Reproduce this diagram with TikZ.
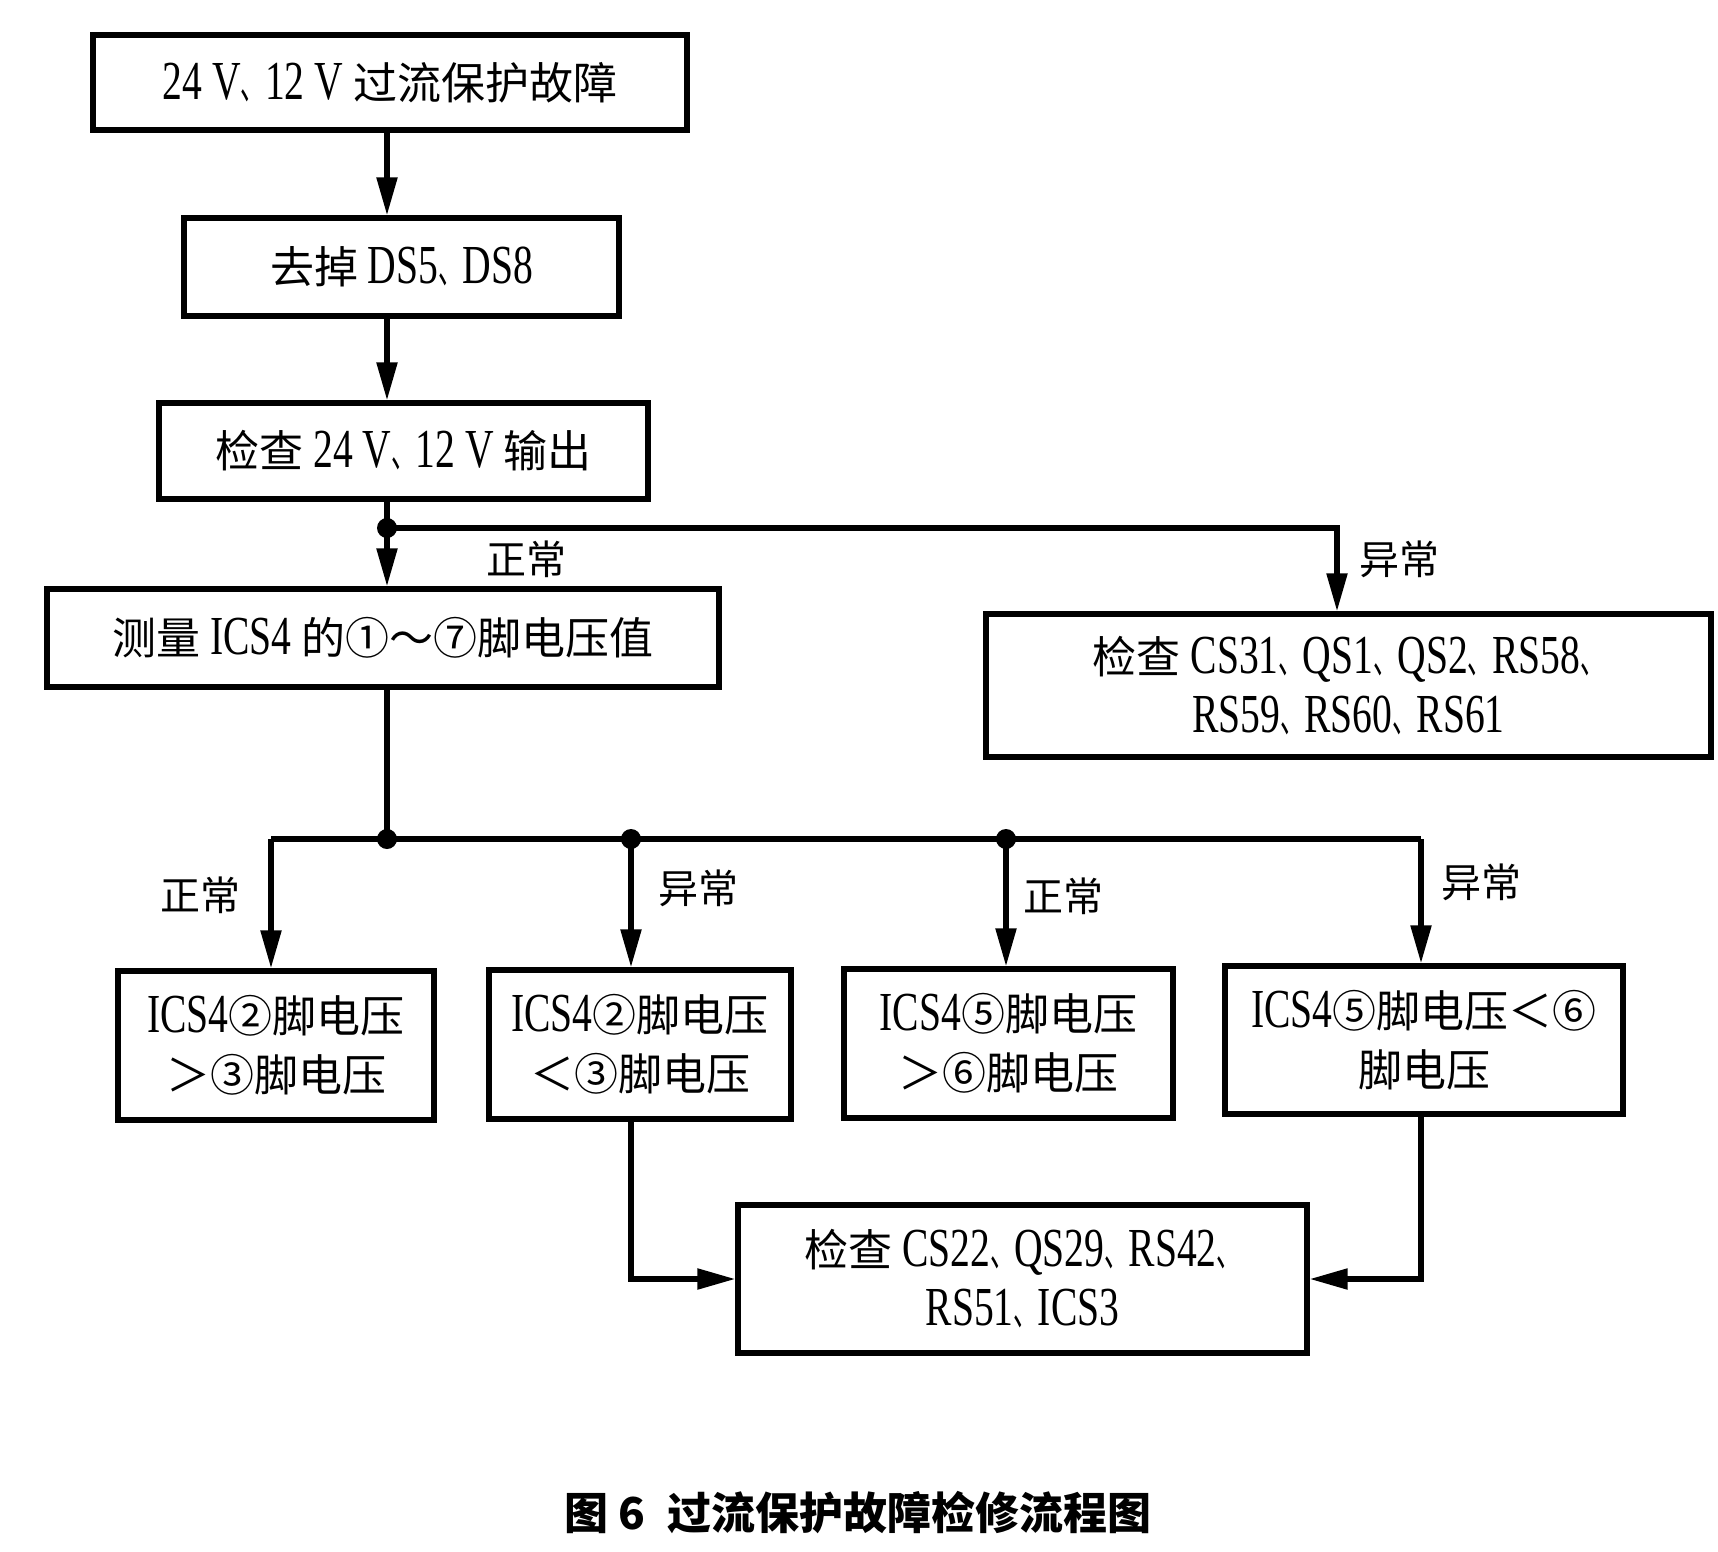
\documentclass[tikz,border=0pt]{standalone}
\usepackage{fontspec}
\setmainfont{Liberation Serif}[FakeStretch=0.72,Scale=1.25]
\newfontfamily\cjk{Noto Sans CJK SC}
\usetikzlibrary{arrows.meta}
\newcommand{\zh}[1]{{\cjk #1}}
\newcommand{\dun}{\scalebox{0.55}[1]{\cjk 、}}
\begin{document}
\begin{tikzpicture}[x=0.5pt,y=-0.5pt,
  box/.style={draw,line width=2.6pt,inner sep=0pt,align=center,font=\fontsize{22}{29.5}\selectfont},
  conn/.style={line width=2.6pt},
  arr/.style={conn,-{Triangle[length=19pt,width=10pt]}},
  lbl/.style={font=\fontsize{20}{24}\selectfont\cjk},
  jdot/.style={circle,fill,inner sep=0pt,minimum size=10pt}]
\useasboundingbox (0,0) rectangle (1718,1552);
\fill[white] (0,0) rectangle (1718,1552);

\node[box,minimum width=297pt,minimum height=47.5pt] (box1) at (390,82.5) {24 V\dun 12 V \zh{过流保护故障}};
\node[box,minimum width=217.5pt,minimum height=49pt] (box2) at (401.5,267) {\zh{去掉} DS5\dun DS8};
\node[box,minimum width=244.5pt,minimum height=48pt] (box3) at (403.5,451) {\zh{检查} 24 V\dun 12 V \zh{输出}};
\node[box,minimum width=336pt,minimum height=49pt] (box4) at (383,638) {\zh{测量} ICS4 \zh{的①～⑦脚电压值}};
\node[box,minimum width=362.5pt,minimum height=71.5pt] (box5) at (1348.5,685.5) {\zh{检查} CS31\dun QS1\dun QS2\dun RS58\dun\\RS59\dun RS60\dun RS61};
\node[box,minimum width=158pt,minimum height=74.5pt] (box6) at (276,1045.5) {ICS4\zh{②脚电压}\\\zh{＞③脚电压}};
\node[box,minimum width=151pt,minimum height=74.5pt] (box7) at (640,1044.5) {ICS4\zh{②脚电压}\\\zh{＜③脚电压}};
\node[box,minimum width=164.5pt,minimum height=74.5pt] (box8) at (1008.5,1043.5) {ICS4\zh{⑤脚电压}\\\zh{＞⑥脚电压}};
\node[box,minimum width=199pt,minimum height=74pt] (box9) at (1424,1040) {ICS4\zh{⑤脚电压＜⑥}\\\zh{脚电压}};
\node[box,minimum width=284.5pt,minimum height=74pt] (box10) at (1022.5,1279) {\zh{检查} CS22\dun QS29\dun RS42\dun\\RS51\dun ICS3};

\coordinate (cx) at (387,0);
\coordinate (rx) at (1337,0);
\coordinate (j1) at (387,528);
\coordinate (j2) at (387,839);
\coordinate (a) at (271,839);
\coordinate (b) at (631,839);
\coordinate (c) at (1006,839);
\coordinate (d) at (1421,839);

\draw[arr] (box1.south -| cx) -- (box2.north -| cx);
\draw[arr] (box2.south -| cx) -- (box3.north -| cx);
\draw[conn] (box3.south -| cx) -- (j1);
\draw[arr] (j1) -- (box4.north -| cx);
\draw[arr] (j1) -| (box5.north -| rx);
\draw[conn] (box4.south -| cx) -- (j2);
\draw[conn] (a) -- (d);
\draw[arr] (a) -- (box6.north -| a);
\draw[arr] (b) -- (box7.north -| b);
\draw[arr] (c) -- (box8.north -| c);
\draw[arr] (d) -- (box9.north -| d);
\draw[arr] (box7.south -| b) |- (box10.west);
\draw[arr] (box9.south -| d) |- (box10.east);

\node[jdot] (d1) at (j1) {};
\node[jdot] (d2) at (j2) {};
\node[jdot] (d3) at (b) {};
\node[jdot] (d4) at (c) {};

\node[lbl] (l1) at (526,559) {正常};
\node[lbl] (l2) at (1399,559) {异常};
\node[lbl] (l3) at (200,895) {正常};
\node[lbl] (l4) at (698,888) {异常};
\node[lbl] (l5) at (1063,896) {正常};
\node[lbl] (l6) at (1481,882) {异常};

\node[font=\fontsize{22}{26}\selectfont\cjk\bfseries] (cap) at (858,1513) {图 6\hspace{0.5em}过流保护故障检修流程图};
\end{tikzpicture}
\end{document}
